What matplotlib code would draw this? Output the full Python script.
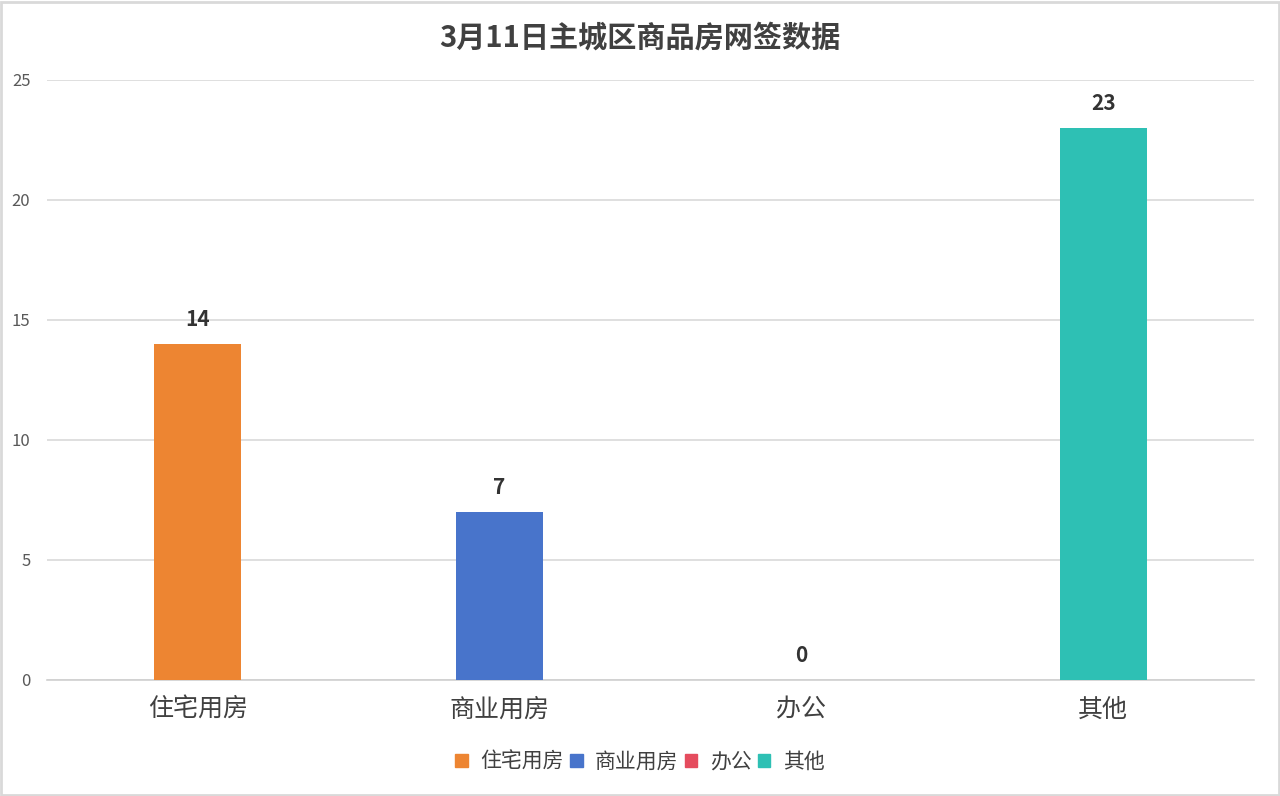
import matplotlib.pyplot as plt
from matplotlib.patches import Rectangle

plt.rcParams['font.family'] = ['Noto Sans CJK SC', 'DejaVu Sans']

# Inputs
categories = ['住宅用房', '商业用房', '办公', '其他']
values = [14, 7, 0, 23]
colors = ['#ED8532', '#4874CB', '#E54C5E', '#2EC0B4']
y_ticks = [0, 5, 10, 15, 20, 25]
# -------

fig = plt.figure(figsize=(12.8, 7.96), dpi=100)
ax = fig.add_axes([47 / 1280, 1 - 680 / 796, 1207 / 1280, 600 / 796])

x = range(len(categories))
bars = ax.bar(x, values, width=0.288, color=colors, zorder=3)

for xi, v in zip(x, values):
    ax.annotate(str(v), (xi, v), xytext=(0, 10), textcoords='offset points',
                ha='center', va='bottom', fontsize=15, fontweight='bold', color='#333333')

ax.set_xlim(-0.5, len(categories) - 0.5)
ax.set_ylim(0, 25)
ax.set_yticks(y_ticks)
ax.set_xticks(list(x))
ax.set_xticklabels(categories, fontsize=18, color='#404040')
ax.tick_params(axis='y', length=0, labelsize=12, labelcolor='#595959', pad=12)
ax.tick_params(axis='x', length=0, pad=12)
ax.grid(axis='y', color='#D9D9D9', linewidth=1.2, zorder=0)
for side in ['top', 'right', 'left']:
    ax.spines[side].set_visible(False)
ax.spines['bottom'].set_color('#D0D0D0')
ax.spines['bottom'].set_linewidth(1.2)

fig.text(0.5, 1 - 38 / 796, '3月11日主城区商品房网签数据', ha='center', va='center',
         fontsize=21, fontweight='bold', color='#404040')

handles = [Rectangle((0, 0), 1, 1, color=c) for c in colors]
fig.legend(handles, categories, loc='center', bbox_to_anchor=(0.5, 1 - 762 / 796),
           ncol=4, frameon=False, fontsize=15, handlelength=0.6, handleheight=0.6,
           handletextpad=0.6, columnspacing=0.3, labelcolor='#404040')

# light border around the whole chart
fig.patches.append(Rectangle((0.001, 0.001), 0.998, 0.997, transform=fig.transFigure,
                             fill=False, edgecolor='#D9D9D9', linewidth=2))

fig.savefig('out.png', dpi=100)
